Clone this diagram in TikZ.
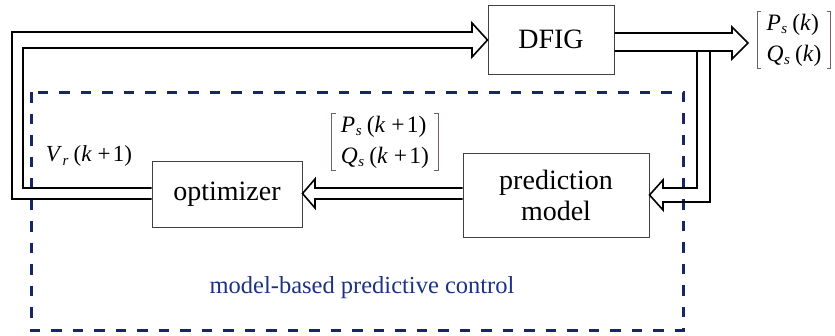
\documentclass[tikz,border=0pt]{standalone}
\usepackage{fontspec}
\setmainfont{Liberation Serif}
\usetikzlibrary{calc}
\definecolor{navy}{RGB}{24,38,100}
\definecolor{navytext}{RGB}{30,50,130}
\definecolor{brk}{RGB}{110,95,105}
\newcommand{\sig}[3]{\textit{#1}\kern0.02em\raisebox{-0.35ex}{\fontsize{15}{16}\selectfont\textit{#2}}\kern0.22em(#3)}
\newcommand{\kp}{\textit{k}\kern0.25em+\kern0.1em1}
\begin{document}
\begin{tikzpicture}[x=1pt,y=-1pt,
  box/.style={draw=black!75, line width=1pt, fill=white, inner sep=0pt, align=center, font=\fontsize{28}{31}\selectfont},
  band/.style={draw=black, line width=1.6pt, line join=miter},
  lbl/.style={inner sep=0pt, font=\fontsize{23}{29}\selectfont},
  mat/.style={inner xsep=9pt, inner ysep=2pt, align=left, font=\fontsize{23.5}{31}\selectfont},
  brack/.style={draw=brk, line width=1pt}]
\useasboundingbox (0,0) rectangle (835,335);
\draw[navy, line width=3pt, dash pattern=on 10.5pt off 11pt] (31,92) rectangle (683,330);
\node[box, minimum width=126, minimum height=69] (dfig) at (551,39.5) {DFIG};
\node[box, minimum width=150, minimum height=66] (opt) at (227,194) {optimizer};
\node[box, minimum width=186, minimum height=84] (pred) at (556,195) {prediction\\model};
\coordinate (otip) at (748,43);
% input loop
\draw[band] (opt.west |- 0,199) -- (12,199) -- (12,32) -- (472,32) -- (472,23) -- (dfig.west |- 0,40) -- (472,57) -- (472,48) -- (23,48) -- (23,188) -- (opt.west |- 0,188);
% output
\draw[band] (dfig.east |- 0,33) -- (732,33) -- (732,27) -- (otip) -- (732,59) -- (732,51) -- (dfig.east |- 0,51);
% feedback
\draw[band] (697,51) -- (697,188) -- (663,188) -- (663,180) -- (pred.east |- 0,195) -- (663,210) -- (663,202) -- (710,202) -- (710,51);
% prediction -> optimizer
\draw[band] (pred.west |- 0,188) -- (315,188) -- (315,179) -- (opt.east |- 0,193.5) -- (315,208) -- (315,199) -- (pred.west |- 0,199);
% labels
\node[mat] (outm) at (794,40) {\sig{P}{s}{\textit{k}}\\\sig{Q}{s}{\textit{k}}};
\draw[brack] ($(outm.north west)+(4,0)$) -- (outm.north west) -- (outm.south west) -- ++(4,0);
\draw[brack] ($(outm.north east)+(-4,0)$) -- (outm.north east) -- (outm.south east) -- ++(-4,0);
\node[mat] (predm) at (385,142) {\sig{P}{s}{\kp}\\\sig{Q}{s}{\kp}};
\draw[brack] ($(predm.north west)+(4,0)$) -- (predm.north west) -- (predm.south west) -- ++(4,0);
\draw[brack] ($(predm.north east)+(-4,0)$) -- (predm.north east) -- (predm.south east) -- ++(-4,0);
\node[lbl] (vr) at (89,156) {\sig{V}{r}{\kp}};
\node[text=navytext, inner sep=0pt, font=\fontsize{24.5}{28}\selectfont, anchor=base] (mpc) at (362,293) {model-based predictive control};
\end{tikzpicture}
\end{document}
